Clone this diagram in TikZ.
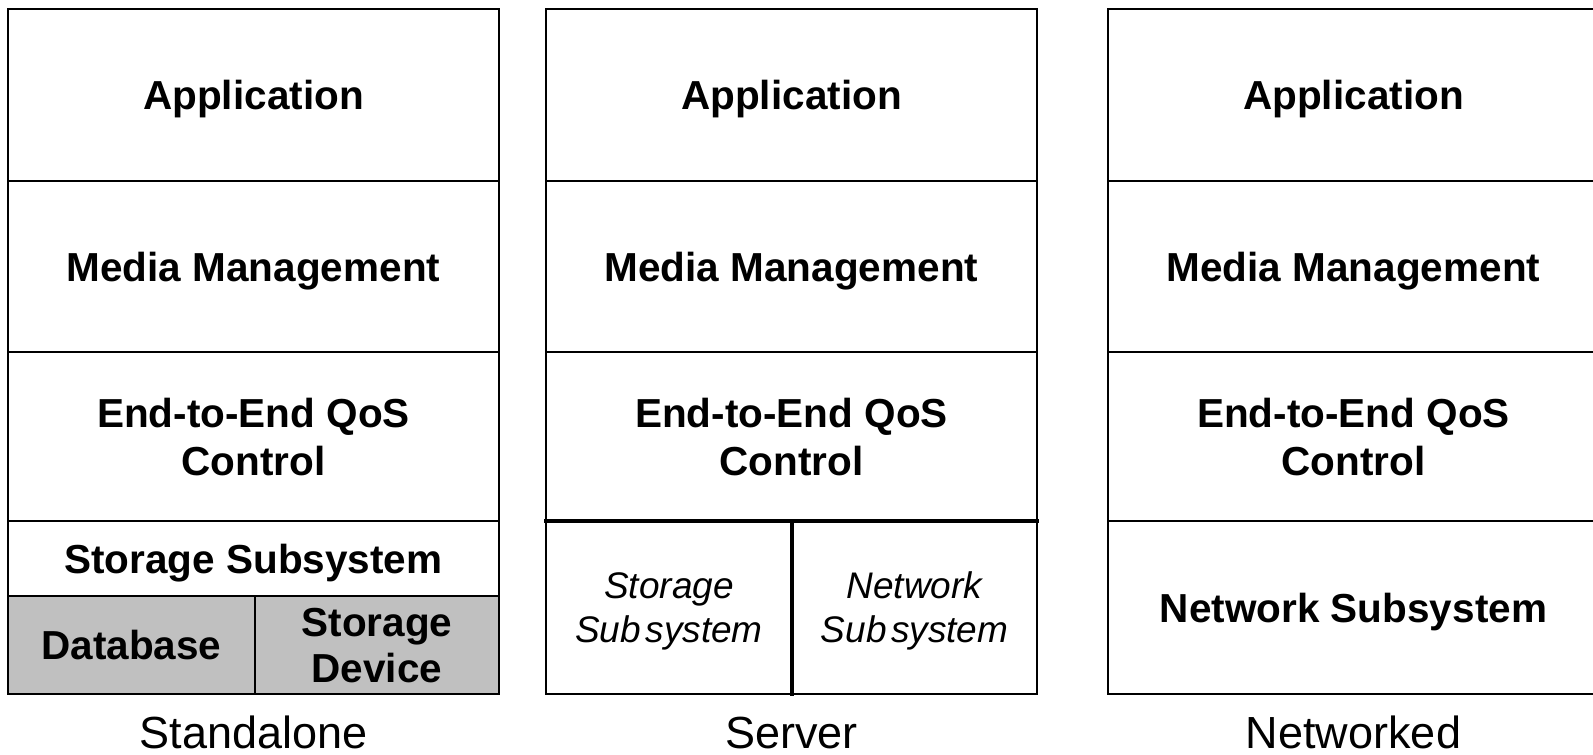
\documentclass[tikz,border=0pt]{standalone}
\usepackage{fontspec}
\setmainfont{Liberation Sans}
\definecolor{devgray}{HTML}{C0C0C0}
\begin{document}
\begin{tikzpicture}[x=1pt,y=-1pt,
  layer/.style={draw=black, line width=2.5pt, anchor=north west, inner sep=0pt,
    outer sep=0pt, minimum width=491pt, align=center, text depth=0pt,
    font=\fontsize{40.5}{48}\selectfont\bfseries},
  half/.style={layer, minimum width=#1},
  sub/.style={draw=black, line width=2.5pt, anchor=north west, inner sep=0pt,
    outer sep=0pt, align=center, minimum height=173pt, text depth=0pt,
    font=\fontsize{37}{44}\selectfont\itshape},
  heavy/.style={line width=4.5pt, line cap=rect},
  caption/.style={anchor=base, inner sep=0pt, font=\fontsize{45}{54}\selectfont}]
\useasboundingbox (0,0) rectangle (1593,755);
\clip (0,0) rectangle (1593,755);

% --- Standalone stack ---
\node[layer, minimum height=172pt] (a1) at (8,9) {Application};
\node[layer, minimum height=171pt] (m1) at (8,181) {Media Management};
\node[layer, minimum height=169pt] (q1) at (8,352) {End-to-End QoS\\Control};
\node[layer, minimum height=75pt] (s1) at (8,521) {Storage Subsystem};
\node[half=247pt, minimum height=98pt, fill=devgray] (db) at (8,596) {Database};
\node[half=244pt, minimum height=98pt, fill=devgray] (sd) at (255,596) {Storage\\[-2pt]Device};
\node[caption] (lab1) at (253.5,748) {Standalone};

% --- Server stack ---
\node[layer, minimum height=172pt] (a2) at (546,9) {Application};
\node[layer, minimum height=171pt] (m2) at (546,181) {Media Management};
\node[layer, minimum height=169pt] (q2) at (546,352) {End-to-End QoS\\Control};
\node[sub, minimum width=246pt] (ss2) at (546,521) {Storage\\Sub\hspace{0.12em}system};
\node[sub, minimum width=245pt] (ns2) at (792,521) {Network\\Sub\hspace{0.12em}system};
\draw[heavy] (q2.south west) -- (q2.south east);
\draw[heavy] (ss2.north east) -- (ss2.south east);
\node[caption] (lab2) at (791.5,748) {Server};

% --- Networked stack ---
\node[layer, minimum height=172pt] (a3) at (1108,9) {Application};
\node[layer, minimum height=171pt] (m3) at (1108,181) {Media Management};
\node[layer, minimum height=169pt] (q3) at (1108,352) {End-to-End QoS\\Control};
\node[layer, minimum height=173pt] (n3) at (1108,521) {Network Subsystem};
\node[caption] (lab3) at (1353.5,748) {Networked};
\end{tikzpicture}
\end{document}
